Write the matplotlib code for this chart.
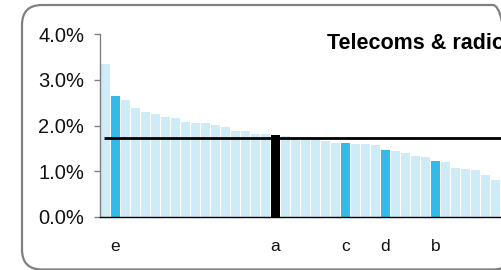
import matplotlib
matplotlib.use("Agg")
import matplotlib.pyplot as plt
from matplotlib.patches import FancyBboxPatch
from matplotlib.transforms import IdentityTransform

plt.rcParams['font.family'] = ['Liberation Sans', 'DejaVu Sans']

# ---- data ----
values = [3.34, 2.64, 2.55, 2.38, 2.29, 2.25, 2.18, 2.16, 2.07, 2.05, 2.05,
          2.01, 1.96, 1.88, 1.88, 1.81, 1.81, 1.79, 1.77, 1.73, 1.70, 1.70,
          1.66, 1.62, 1.62, 1.59, 1.59, 1.57, 1.46, 1.44, 1.40, 1.33, 1.31,
          1.22, 1.20, 1.07, 1.05, 1.03, 0.92, 0.81, 0.74]
highlight_idx = [1, 24, 28, 33]
black_idx = [17]
label_idx = [1, 17, 24, 28, 33]
label_txt = ['e', 'a', 'c', 'd', 'b']
average = 1.72
yticks = [0, 1, 2, 3, 4]
title = "Telecoms & radio"

LIGHT = '#CDECF8'
BLUE = '#33BAE9'

W, H = 502, 270
fig = plt.figure(figsize=(W / 100, H / 100), dpi=100)

# axes: left spine at x=100px, 0% at y=217px, 4% at y=34px, 10px per bar
ax = fig.add_axes([100 / W, (H - 217) / H, 500 / W, 183 / H])
colors = []
for i in range(len(values)):
    if i in black_idx:
        colors.append('black')
    elif i in highlight_idx:
        colors.append(BLUE)
    else:
        colors.append(LIGHT)
x = list(range(len(values)))
ax.bar(x, values, width=0.88, color=colors, linewidth=0, zorder=2)
ax.hlines(average, -0.1, 49.45, color='black', linewidth=2.0, zorder=3)

ax.set_xlim(-0.55, 49.45)
ax.set_ylim(0, 4)
ax.set_yticks(yticks)
ax.set_yticklabels([f"{v:.1f}%" for v in yticks])
ax.set_xticks(label_idx)
ax.set_xticklabels(label_txt)

for s in ['top', 'right']:
    ax.spines[s].set_visible(False)
ax.spines['left'].set_color('#808080')
ax.spines['left'].set_linewidth(1.0)
ax.spines['bottom'].set_color('black')
ax.spines['bottom'].set_linewidth(1.0)
ax.spines['bottom'].set_zorder(4)

ax.tick_params(axis='y', direction='out', length=4.5, width=1.0, color='#808080',
               labelsize=14.5, pad=7, labelcolor='#111111')
ax.tick_params(axis='x', length=0, labelsize=12.5, pad=16, labelcolor='#111111')
ax.set_facecolor('none')

fig.text(327 / W, 1 - 49 / H, title, fontsize=15.5, fontweight='bold',
         ha='left', va='baseline', color='black')

border = FancyBboxPatch((22, 0.5), 491, 264.5,
                        boxstyle="round,pad=0,rounding_size=20",
                        transform=IdentityTransform(), fill=False,
                        edgecolor='#808080', linewidth=1.6, figure=fig)
fig.patches.append(border)

fig.savefig("out.png", dpi=100)
